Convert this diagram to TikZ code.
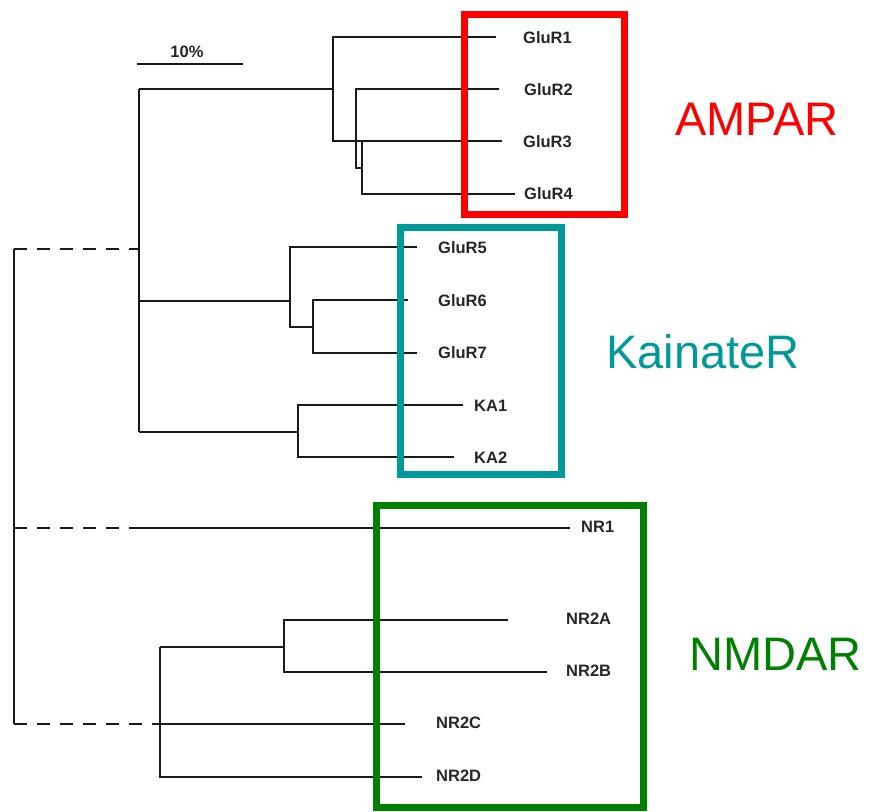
\documentclass[tikz,border=0pt]{standalone}
\usepackage{fontspec}
\setmainfont{Liberation Sans}
\newcommand\leaffont{\fontsize{16.5}{16.5}\selectfont\bfseries}
\newcommand\grpfont{\fontsize{47}{47}\selectfont}
\definecolor{ampred}{RGB}{255,0,0}
\definecolor{kaiteal}{RGB}{0,153,153}
\definecolor{nmdgreen}{RGB}{0,128,0}
\tikzset{
  branch/.style={line width=2pt, draw=black!90, line join=miter},
  dashbranch/.style={branch, dash pattern=on 13pt off 10pt},
  leaf/.style={anchor=west, inner sep=0pt, font=\leaffont, text=black!85},
  groupbox/.style={line width=7pt, line join=miter},
  grouplabel/.style={anchor=base west, inner sep=0pt, font=\grpfont},
}
\begin{document}
\begin{tikzpicture}[x=1pt,y=-1pt]
\useasboundingbox (0,0) rectangle (882,811);
% ---------- tips ----------
\coordinate (t1) at (496,37);
\coordinate (t2) at (499,89);
\coordinate (t3) at (502,141);
\coordinate (t4) at (515,194);
\coordinate (t5) at (417,247);
\coordinate (t6) at (408,300);
\coordinate (t7) at (417,353);
\coordinate (tka1) at (463,405);
\coordinate (tka2) at (454,457);
\coordinate (tnr1) at (570,528);
\coordinate (tnr2a) at (508,620);
\coordinate (tnr2b) at (547,672);
\coordinate (tnr2c) at (405,724);
\coordinate (tnr2d) at (422,777);
% ---------- labels ----------
\node[leaf] (lg1) at (523,38) {GluR1};
\node[leaf] (lg2) at (524,90) {GluR2};
\node[leaf] (lg3) at (523,142) {GluR3};
\node[leaf] (lg4) at (524,194) {GluR4};
\node[leaf] (lg5) at (438,248) {GluR5};
\node[leaf] (lg6) at (438,301) {GluR6};
\node[leaf] (lg7) at (438,353) {GluR7};
\node[leaf] (lka1) at (474,406) {KA1};
\node[leaf] (lka2) at (474,458) {KA2};
\node[leaf] (lnr1) at (581,527) {NR1};
\node[leaf] (lnr2a) at (566,619) {NR2A};
\node[leaf] (lnr2b) at (566,671) {NR2B};
\node[leaf] (lnr2c) at (436,723) {NR2C};
\node[leaf] (lnr2d) at (436,776) {NR2D};
% ---------- internal junctions ----------
\coordinate (root1) at (14,249);
\coordinate (root2) at (14,528);
\coordinate (root3) at (14,724);
\coordinate (ion) at (139,249);
\coordinate (ionT) at (139,89);
\coordinate (ionK) at (139,301);
\coordinate (ionB) at (139,432);
\coordinate (amT) at (333,37);
\coordinate (amM) at (333,89);
\coordinate (amB) at (333,141);
\coordinate (b2T) at (356,89);
\coordinate (b2B) at (356,168);
\coordinate (b34m) at (362,168);
\coordinate (b34T) at (362,141);
\coordinate (b34B) at (362,194);
\coordinate (k1) at (290,301);
\coordinate (k1T) at (290,247);
\coordinate (k1B) at (290,327);
\coordinate (k2B) at (313,327);
\coordinate (k2T) at (313,300);
\coordinate (k2b) at (313,353);
\coordinate (ka) at (298,432);
\coordinate (kaT) at (298,405);
\coordinate (kaB) at (298,457);
\coordinate (n1) at (139,528);
\coordinate (n2) at (160,724);
\coordinate (n2T) at (160,647);
\coordinate (n2B) at (160,777);
\coordinate (n2a) at (284,647);
\coordinate (n2aT) at (284,620);
\coordinate (n2aB) at (284,672);
% ---------- AMPA / kainate clade ----------
\draw[branch] (ionT) -- (ionB);
\draw[branch] (ionT) -- (amM);
\draw[branch] (t1) -- (amT) -- (amB) -- (t3);
\draw[branch] (t2) -- (b2T) -- (b2B) -- (b34m);
\draw[branch] (b34T) -- (b34B) -- (t4);
\draw[branch] (ionK) -- (k1);
\draw[branch] (t5) -- (k1T) -- (k1B) -- (k2B);
\draw[branch] (t6) -- (k2T) -- (k2b) -- (t7);
\draw[branch] (ionB) -- (ka);
\draw[branch] (tka1) -- (kaT) -- (kaB) -- (tka2);
% ---------- root ----------
\draw[branch] (root1) -- (root3);
\draw[dashbranch] (root1) -- (ion);
\draw[dashbranch] (root2) -- (n1);
\draw[dashbranch] (root3) -- (n2);
% ---------- NMDA clade ----------
\draw[branch] (n1) -- (tnr1);
\draw[branch] (n2T) -- (n2B) -- (tnr2d);
\draw[branch] (n2) -- (tnr2c);
\draw[branch] (n2T) -- (n2a);
\draw[branch] (tnr2a) -- (n2aT) -- (n2aB) -- (tnr2b);
% ---------- scale bar ----------
\coordinate (sbL) at (137,64);
\coordinate (sbR) at (243,64);
\draw[branch] (sbL) -- (sbR);
\node[font=\leaffont, text=black!85, inner sep=0pt] (sbtxt) at (187,52) {10\%};
% ---------- group boxes ----------
\draw[groupbox, draw=ampred] (464,14) rectangle (624,214);
\draw[groupbox, draw=kaiteal] (400.5,227.5) rectangle (561.5,474.5);
\draw[groupbox, draw=nmdgreen] (376,505) rectangle (643,807);
% ---------- group labels ----------
\node[grouplabel, text=ampred] (gampa) at (675,135) {AMPAR};
\node[grouplabel, text=kaiteal] (gkai) at (606,368) {KainateR};
\node[grouplabel, text=nmdgreen] (gnmda) at (689,670) {NMDAR};
\end{tikzpicture}
\end{document}
